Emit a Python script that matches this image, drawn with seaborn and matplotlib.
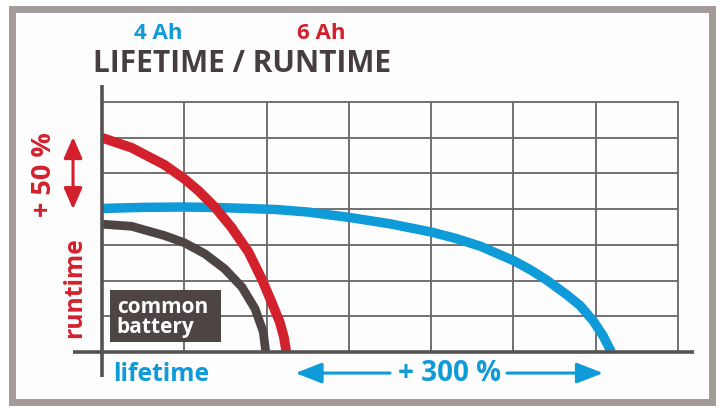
import matplotlib
matplotlib.use("Agg")
import matplotlib.pyplot as plt
import seaborn as sns
import pandas as pd
from matplotlib.patches import Rectangle

sns.set_theme(style="white")
plt.rcParams['font.family'] = ['Open Sans', 'DejaVu Sans']

# ---- data (grid units) ----
red_x = [0.0, 0.36, 0.76, 1.0, 1.17, 1.37, 1.57, 1.78, 1.94, 2.06, 2.16, 2.21, 2.24]
red_y = [6.0, 5.72, 5.24, 4.85, 4.52, 4.06, 3.5, 2.8, 2.05, 1.4, 0.84, 0.42, 0.0]
blue_x = [0.0, 0.5, 1.0, 1.5, 2.12, 2.5, 3.0, 3.5, 4.0, 4.3, 4.6, 5.0, 5.2, 5.4, 5.65, 5.81, 5.97, 6.09, 6.19]
blue_y = [4.02, 4.05, 4.06, 4.04, 3.99, 3.92, 3.77, 3.59, 3.36, 3.18, 2.96, 2.56, 2.31, 2.02, 1.6, 1.3, 0.87, 0.45, 0.0]
dark_x = [0.0, 0.36, 0.76, 1.0, 1.25, 1.49, 1.70, 1.86, 1.96, 1.99]
dark_y = [3.58, 3.52, 3.26, 3.06, 2.75, 2.33, 1.82, 1.21, 0.56, 0.0]
n_cols, n_rows = 7, 7

title = "LIFETIME / RUNTIME"
label_4ah, label_6ah = "4 Ah", "6 Ah"
label_runtime, label_lifetime = "runtime", "lifetime"
label_50, label_300 = "+ 50 %", "+ 300 %"

RED = "#d2212c"
BLUE = "#0f9ad8"
DARK = "#4d4444"
TITLE = "#463e3e"
GRID = "#6d6a6a"
AXIS = "#575252"
FRAME = "#a39a9a"

W, H = 724, 417
fig = plt.figure(figsize=(W / 100, H / 100), dpi=100)
fig.patch.set_facecolor("white")

ax = fig.add_axes([0, 0, 1, 1])
ax.patch.set_alpha(0)
# pixel mapping: x=0 at px 102, unit 82.29 px; y=0 at px 352 (from top), unit 35.71 px
ux, uy = 82.29, 35.71
ax.set_xlim(-102 / ux, (W - 102) / ux)
ax.set_ylim(-(H - 352) / uy, 352 / uy)
ax.axis("off")

# frame
ax.add_patch(Rectangle((11.5 / W, 15.5 / H), 700 / W, 393 / H, transform=fig.transFigure,
                       facecolor="#fdfdfd", edgecolor=FRAME, linewidth=5.0, zorder=0,
                       clip_on=False))

# grid
for i in range(1, n_rows + 1):
    ax.plot([0, n_cols], [i, i], color=GRID, lw=1.35, zorder=1)
for j in range(1, n_cols + 1):
    ax.plot([j, j], [0, n_rows], color=GRID, lw=1.35, zorder=1)

# curves
df = pd.concat([
    pd.DataFrame({"x": dark_x, "y": dark_y, "s": "common"}),
    pd.DataFrame({"x": red_x, "y": red_y, "s": "6 Ah"}),
    pd.DataFrame({"x": blue_x, "y": blue_y, "s": "4 Ah"}),
])
for name, col, lw in [("4 Ah", BLUE, 6.8), ("common", DARK, 6.3), ("6 Ah", RED, 7.0)]:
    sub = df[df.s == name]
    sns.lineplot(data=sub, x="x", y="y", sort=False, color=col, lw=lw, ax=ax,
                 solid_capstyle="butt", solid_joinstyle="round", zorder=3, estimator=None)

# axes lines
ax.plot([-0.35, 7.2], [0, 0], color=AXIS, lw=2.6, zorder=5, solid_capstyle="butt")
ax.plot([0, 0], [-0.7, 7.48], color=AXIS, lw=2.6, zorder=5, solid_capstyle="butt")

# common battery box
ax.add_patch(Rectangle((0.097, 0.28), 1.349, 1.456, facecolor=DARK, edgecolor="none", zorder=4))
ax.text(0.18, 1.09, "common", color="white", fontsize=15, fontweight="bold", ha="left",
        va="baseline", zorder=6)
ax.text(0.18, 0.53, "battery", color="white", fontsize=15, fontweight="bold", ha="left",
        va="baseline", zorder=6)

# titles
ax.text(-0.109, 7.84, title, color=TITLE, fontsize=21.5, fontweight="bold", ha="left", va="baseline")
ax.text(0.68, 8.77, label_4ah, color=BLUE, fontsize=16, fontweight="bold", ha="center", va="baseline")
ax.text(2.66, 8.77, label_6ah, color=RED, fontsize=16, fontweight="bold", ha="center", va="baseline")

# left labels
ax.text(-0.705, 4.98, label_50, color=RED, fontsize=19.5, fontweight="bold", rotation=90,
        ha="center", va="center")
ax.text(-0.33, 1.79, label_runtime, color=RED, fontsize=17.7, fontweight="bold", rotation=90,
        ha="center", va="center")
ax.annotate("", xy=(-0.352, 6.02), xytext=(-0.352, 4.0),
            arrowprops=dict(arrowstyle="<|-|>,head_length=0.8,head_width=0.35", color=RED,
                            lw=2.2, mutation_scale=16, shrinkA=0, shrinkB=0))

# bottom labels
ax.text(0.134, -0.64, label_lifetime, color=BLUE, fontsize=17.7, fontweight="bold",
        ha="left", va="center")
ax.text(4.22, -0.59, label_300, color=BLUE, fontsize=20, fontweight="bold", ha="center", va="center")
ax.annotate("", xy=(2.35, -0.59), xytext=(3.5, -0.59),
            arrowprops=dict(arrowstyle="-|>,head_length=0.9,head_width=0.35", color=BLUE,
                            lw=2.2, mutation_scale=18, shrinkA=0, shrinkB=0))
ax.annotate("", xy=(6.09, -0.59), xytext=(4.92, -0.59),
            arrowprops=dict(arrowstyle="-|>,head_length=0.9,head_width=0.35", color=BLUE,
                            lw=2.2, mutation_scale=18, shrinkA=0, shrinkB=0))

fig.savefig("out.png", dpi=100)
